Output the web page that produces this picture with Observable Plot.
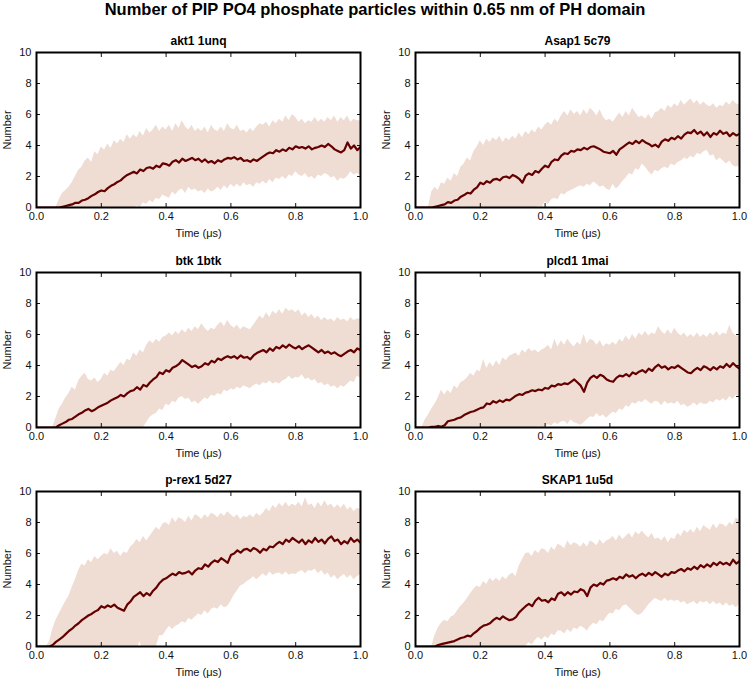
<!DOCTYPE html>
<html>
<head>
<meta charset="utf-8">
<script src="https://cdn.jsdelivr.net/npm/d3@7"></script>
<script src="https://cdn.jsdelivr.net/npm/@observablehq/plot@0.6"></script>
<style>
  html, body { margin: 0; padding: 0; background: #fff; }
  #root { position: relative; width: 750px; height: 682px; font-family: "Liberation Sans", Arial, sans-serif; }
  #title { position: absolute; left: 0; top: 0; width: 750px; text-align: center; font-weight: bold; font-size: 16.5px; line-height: 18px; color: #000; }
  .panel { position: absolute; }
</style>
</head>
<body>
<div id="root">
  <div id="title">Number of PIP PO4 phosphate particles within 0.65 nm of PH domain</div>
</div>
<script>
// ---- data: values sampled every 0.01 µs from 0.00 to 1.00 (101 samples) ----
const panelNames = ["akt1 1unq", "Asap1 5c79", "btk 1btk", "plcd1 1mai", "p-rex1 5d27", "SKAP1 1u5d"];
const xTicks = [0, 0.2, 0.4, 0.6, 0.8, 1.0];
const yTicks = [0, 2, 4, 6, 8, 10];

const akt1Mean = [0,0,0,0,0,0,0,0,0.05,0.1, 0.15,0.2,0.3,0.3,0.45,0.5,0.6,0.75,0.85,1.0, 1.1,1.05,1.25,1.4,1.5,1.65,1.75,1.95,2.1,2.2, 2.3,2.2,2.45,2.35,2.55,2.6,2.5,2.7,2.6,2.85, 2.8,2.7,2.95,3.05,2.9,3.15,3.0,3.1,3.2,3.05, 3.15,2.95,3.1,2.9,3.0,2.85,3.05,2.95,3.1,3.2, 3.15,3.25,3.1,3.2,3.0,3.05,2.95,3.1,3.0,3.15, 3.3,3.45,3.55,3.5,3.7,3.6,3.75,3.65,3.85,3.75, 3.95,3.85,3.9,3.8,3.95,3.75,3.85,3.9,4.0,3.9, 4.1,3.95,3.75,3.65,3.55,3.7,4.2,3.8,4.0,3.7, 3.9];
const akt1Upper = [0,0,0,0,0,0,0,0.5,0.9,1.1, 1.3,1.6,2.0,2.4,2.6,3.0,3.2,2.9,3.6,3.4, 3.9,3.7,4.1,3.8,4.3,4.1,4.4,4.2,4.7,4.4, 4.7,4.5,4.9,4.6,5.1,4.8,5.0,5.3,4.9,5.2, 5.0,5.3,4.9,5.4,5.1,5.6,5.2,5.0,5.3,4.9, 5.1,4.9,5.2,4.8,5.3,5.0,4.9,5.2,4.9,5.4, 5.1,5.0,5.3,4.9,5.0,4.8,5.1,4.9,5.2,5.4, 5.3,5.5,5.2,5.6,5.4,5.7,5.5,5.9,5.6,6.0, 5.8,5.5,5.7,5.4,5.6,5.5,5.8,5.5,5.7,5.5, 5.8,5.6,5.9,5.5,5.8,5.6,5.9,5.5,5.7,5.6, 5.6];
const akt1Lower = [0,0,0,0,0,0,0,-0.5,-0.8,-0.9, -1.0,-1.2,-1.4,-1.8,-1.7,-2.0,-2.0,-1.4,-1.9,-1.4, -1.7,-1.6,-1.6,-1.0,-1.3,-0.8,-0.9,-0.3,-0.5,-0.1, -0.1,0.1,0.0,0.3,0.2,0.45,0.3,0.6,0.5,0.8, 0.7,0.6,1.0,0.8,1.1,1.2,0.9,1.3,1.1,1.2, 1.0,1.1,0.9,1.2,1.0,1.1,1.3,1.1,1.4,1.2, 1.5,1.3,1.5,1.3,1.6,1.4,1.5,1.3,1.6,1.5, 1.7,1.5,1.8,1.6,1.9,1.8,2.0,1.8,2.1,2.0, 2.3,2.1,2.0,2.2,1.9,2.0,1.8,2.1,2.0,2.2, 2.1,1.9,2.0,1.7,1.9,1.8,2.0,2.3,2.1,2.2, 2.1];

const asap1Mean = [0,0,0,0,0,0,0.05,0.1,0.15,0.2, 0.35,0.3,0.45,0.5,0.7,0.8,0.95,0.9,1.15,1.3, 1.6,1.5,1.7,1.6,1.8,1.85,1.75,1.95,2.0,1.9, 2.1,2.0,1.85,1.6,2.05,2.2,2.1,2.35,2.25,2.5, 2.7,2.6,2.95,3.1,3.05,3.35,3.5,3.45,3.65,3.6, 3.75,3.7,3.85,3.75,3.9,3.95,3.85,3.75,3.6,3.55, 3.5,3.65,3.4,3.75,3.9,4.05,4.2,4.1,4.3,4.15, 4.35,4.2,4.1,3.95,4.05,3.9,4.25,4.4,4.3,4.5, 4.4,4.6,4.45,4.7,4.85,4.8,5.0,4.75,4.9,4.65, 4.85,4.55,4.8,4.7,4.95,4.75,4.85,4.6,4.8,4.65, 4.75];
const asap1Upper = [0,0,0,0,0,1.0,1.3,1.1,1.6,1.5, 1.9,1.7,2.2,2.0,2.6,2.8,3.2,3.0,3.6,3.9, 4.3,4.0,4.4,4.2,4.5,4.3,4.6,4.2,4.5,4.3, 4.6,4.4,4.8,4.5,4.9,4.7,5.0,4.8,5.2,5.0, 5.3,5.5,5.3,5.7,5.5,5.9,6.2,5.9,6.3,6.0, 6.2,5.9,6.3,6.0,6.4,6.2,5.9,6.3,5.8,5.6, 5.7,5.5,5.8,6.1,5.8,6.2,5.9,6.4,6.1,5.8, 5.9,5.7,6.0,5.7,6.1,6.2,6.4,6.2,6.6,6.4, 6.7,6.5,6.9,6.6,6.8,7.0,6.7,6.9,6.6,6.8, 6.6,6.5,6.7,6.4,6.6,6.5,6.8,6.6,6.9,6.7, 6.6];
const asap1Lower = [0,0,0,0,0,-1.0,-1.2,-0.9,-1.3,-1.1, -1.2,-1.1,-1.3,-1.0,-1.2,-1.2,-1.3,-1.2,-1.3,-1.3, -1.1,-1.0,-1.0,-1.0,-0.9,-0.6,-1.1,-0.3,-0.5,-0.5, -0.4,-0.4,-1.1,-1.3,-0.8,-0.3,0.0,-0.1,0.1,0.0, 0.35,0.2,0.5,0.6,0.5,0.9,0.8,1.0,1.1,1.2, 1.3,1.4,1.3,1.5,1.4,1.65,1.5,1.3,1.4,1.2, 1.1,1.5,1.2,1.4,1.7,1.9,2.2,2.1,2.5,2.4, 2.8,2.6,2.3,2.1,2.4,2.3,2.5,2.6,2.5,2.8, 2.7,2.9,3.0,3.2,3.1,3.3,3.2,3.5,3.4,3.6, 3.7,3.3,3.4,3.0,3.2,3.0,2.8,3.0,2.7,2.6, 2.7];

const btkMean = [0,0,0,0,0,0,0,0.15,0.25,0.35, 0.5,0.55,0.7,0.85,0.95,1.1,1.2,1.05,1.15,1.3, 1.4,1.5,1.6,1.75,1.85,1.95,2.1,2.0,2.2,2.35, 2.4,2.6,2.45,2.75,2.65,2.9,3.1,3.25,3.55,3.45, 3.7,3.6,3.85,3.95,4.1,4.35,4.2,4.05,3.9,4.0, 3.85,3.95,4.15,4.05,4.3,4.2,4.45,4.35,4.5,4.6, 4.5,4.6,4.45,4.65,4.5,4.55,4.4,4.65,4.8,4.9, 5.0,4.85,5.1,4.95,5.2,5.1,5.3,5.15,5.35,5.2, 5.1,5.25,5.05,5.2,5.3,5.15,5.0,4.85,5.0,4.8, 4.9,4.75,4.85,4.7,4.6,4.75,4.9,5.0,4.85,5.1, 5.0];
const btkUpper = [0,0,0,0,0,0,0.6,1.2,1.5,1.9, 2.2,2.6,2.4,3.0,3.3,3.5,3.1,3.0,3.2,2.9, 3.1,3.5,3.3,3.7,3.6,3.9,4.2,4.0,4.4,4.3, 4.8,4.6,5.0,4.8,5.3,5.6,5.4,5.7,5.5,5.8, 5.9,6.1,5.9,6.2,6.0,6.3,6.1,6.4,6.2,6.5, 6.3,6.7,6.4,6.2,6.4,6.3,6.6,6.8,6.5,6.9, 6.6,6.4,6.6,6.3,6.5,6.4,6.3,6.6,6.9,7.2, 7.0,7.4,7.1,7.5,7.3,7.6,7.3,7.7,7.5,7.6, 7.4,7.6,7.2,7.4,7.1,7.3,7.0,7.2,6.9,7.1, 6.9,7.0,6.8,7.1,6.9,7.0,6.8,7.1,6.9,7.0, 7.0];
const btkLower = [0,0,0,0,0,0,-0.6,-0.9,-1.0,-1.2, -1.2,-1.5,-1.0,-1.3,-1.4,-1.3,-0.7,-0.9,-0.9,-0.3, -0.3,-0.5,-0.8,-0.9,-0.7,-0.8,-0.6,-0.7,-0.5,-0.4, -0.5,-0.3,-0.2,0.0,0.3,0.65,0.8,0.9,1.2,1.1, 1.5,1.4,1.7,1.6,1.9,2.0,1.8,1.9,1.6,1.7, 1.5,1.7,1.9,1.8,2.1,2.0,2.2,2.1,2.4,2.3, 2.5,2.4,2.6,2.5,2.7,2.6,2.5,2.7,2.8,2.7, 2.9,2.8,3.0,2.8,2.9,2.8,3.0,3.1,3.3,3.1, 3.25,3.2,3.4,3.1,3.2,3.0,3.1,2.8,2.9,2.7, 2.8,2.6,2.7,2.5,2.7,2.6,2.8,3.0,2.9,3.3, 3.2];

const plcd1Mean = [0,0,0,0,0,0.05,0.05,0.1,0.05,0.15, 0.4,0.45,0.5,0.6,0.65,0.8,0.9,1.0,1.05,1.15, 1.25,1.3,1.55,1.5,1.7,1.6,1.75,1.65,1.8,1.75, 1.9,2.05,2.15,2.1,2.25,2.3,2.4,2.35,2.45,2.4, 2.55,2.5,2.7,2.65,2.8,2.75,2.85,2.8,2.95,3.1, 2.9,2.7,2.3,2.9,3.2,3.35,3.2,3.4,3.3,3.1, 3.0,2.95,3.2,3.35,3.3,3.45,3.3,3.55,3.45,3.6, 3.7,3.55,3.8,3.65,3.9,4.05,3.85,3.95,3.75,3.9, 3.85,4.0,3.85,3.7,3.55,3.5,3.7,3.85,3.7,3.95, 3.85,3.7,3.9,3.75,3.95,3.85,4.1,3.9,4.15,3.95, 3.8];
const plcd1Upper = [0,0,0,0.5,0.8,1.2,1.5,1.9,2.4,2.1, 2.4,2.2,2.7,2.5,2.9,3.0,3.2,3.5,3.3,3.7, 3.6,4.4,3.8,4.2,3.9,4.3,4.0,4.5,4.3,4.6, 4.7,4.8,4.6,5.0,4.8,5.1,4.9,5.0,4.8,5.0, 5.1,5.3,5.0,5.7,5.2,5.6,5.3,5.7,5.4,5.2, 5.5,5.3,6.0,5.4,5.7,5.6,5.3,5.6,5.2,5.4, 5.3,5.5,5.3,5.7,5.5,5.9,5.6,6.0,5.7,6.1, 5.9,6.2,5.9,6.1,6.0,6.5,6.2,6.0,6.3,6.0, 6.4,6.1,5.9,6.1,5.8,6.0,5.8,6.1,5.8,6.0, 5.8,6.1,5.9,6.2,5.9,6.1,6.0,6.6,6.1,5.9, 5.9];
const plcd1Lower = [0,0,0,-0.5,-0.8,-1.1,-1.4,-1.7,-2.0,-1.8, -1.6,-1.3,-1.7,-1.3,-1.6,-1.4,-1.4,-1.5,-1.2,-1.4, -1.1,-1.8,-0.7,-1.2,-0.5,-1.1,-0.5,-1.2,-0.7,-1.1, -0.9,-0.7,-0.3,-0.8,-0.3,-0.5,-0.1,-0.3,0.1,-0.2, 0.0,0.2,0.1,0.3,0.2,0.35,0.4,0.2,0.5,0.3, 0.25,0.15,0.3,0.5,0.7,0.65,0.9,0.7,0.8,0.6, 0.8,1.0,0.9,1.2,1.1,1.4,1.3,1.6,1.5,1.7, 1.6,1.8,1.65,1.5,1.7,1.65,1.4,1.7,1.5,1.6, 1.5,1.7,1.4,1.5,1.3,1.4,1.6,1.4,1.6,1.5, 1.5,1.7,1.6,1.8,1.7,1.85,1.7,2.0,1.8,2.1, 1.95];

const prex1Mean = [0,0,0,0,0,0.1,0.3,0.45,0.6,0.8, 1.0,1.15,1.35,1.5,1.7,1.85,2.0,2.1,2.25,2.35, 2.6,2.5,2.65,2.55,2.7,2.5,2.4,2.3,2.7,2.9, 3.2,3.35,3.5,3.25,3.45,3.3,3.6,3.8,4.1,4.3, 4.4,4.55,4.7,4.6,4.8,4.7,4.75,4.85,4.65,4.9, 5.05,5.0,5.3,5.15,5.4,5.55,5.45,5.7,5.55,5.4, 5.9,6.0,6.2,6.05,6.25,6.3,6.15,6.35,6.25,6.05, 6.3,6.2,6.45,6.4,6.6,6.75,6.6,6.9,6.75,7.0, 6.85,6.7,6.9,6.6,6.85,6.7,7.0,6.75,6.9,6.65, 6.95,7.1,6.8,6.9,6.6,6.8,6.65,7.0,6.75,6.9, 6.7];
const prex1Upper = [0,0,0,0,0.3,1.1,1.7,2.1,2.5,2.9, 3.25,3.8,4.3,4.9,5.3,5.2,5.6,5.4,5.8,5.6, 5.8,6.0,5.9,6.3,6.0,6.15,5.8,6.1,6.0,6.4, 6.6,6.9,6.7,7.1,6.8,7.1,7.4,7.7,7.5,7.9, 8.0,7.8,8.3,8.0,8.3,8.2,8.0,8.4,8.1,8.5, 8.4,8.2,8.5,8.3,8.6,8.5,8.3,8.6,8.4,8.7, 8.5,8.3,8.5,8.2,8.4,8.3,8.5,8.3,8.6,8.4, 8.6,8.9,8.7,9.1,8.9,9.25,9.0,9.3,9.0,9.2, 9.05,9.3,9.0,9.6,9.1,9.2,8.9,9.3,9.0,9.4, 9.05,9.2,8.9,9.15,8.9,9.2,8.8,9.0,8.7,8.9, 8.85];
const prex1Lower = [0,0,0,0,-0.3,-0.9,-1.1,-1.2,-1.3,-1.3, -1.25,-1.5,-1.6,-1.9,-1.9,-1.5,-1.6,-1.2,-1.3,-0.9, -0.6,-1.0,-0.6,-1.2,-0.6,-1.15,-1.0,-1.5,-0.6,-0.6, 0.0,-0.2,0.3,-0.6,0.1,-0.5,-0.2,0.0,0.7,0.7, 1.0,1.3,1.1,1.3,1.4,1.6,1.5,1.8,1.7,1.9, 2.1,2.0,2.3,2.1,2.4,2.5,2.4,2.7,2.5,2.6, 2.9,3.3,3.6,3.9,4.0,4.2,4.3,4.5,4.3,4.5, 4.7,4.5,4.8,4.6,4.7,4.75,4.6,4.8,4.6,4.7, 4.65,4.8,4.9,4.7,4.9,4.85,5.0,4.7,4.9,4.6, 4.75,4.4,4.6,4.3,4.5,4.65,4.4,4.6,4.3,4.5, 4.65];

const skap1Mean = [0,0,0,0,0,0,0,0.1,0.15,0.2, 0.25,0.3,0.35,0.45,0.55,0.6,0.7,0.65,0.85,1.0, 1.2,1.35,1.4,1.5,1.7,1.85,1.75,1.95,1.8,1.7, 1.75,1.9,2.2,2.4,2.6,2.75,2.6,2.95,3.15,2.95, 3.0,2.85,3.1,3.0,3.4,3.5,3.3,3.5,3.35,3.55, 3.5,3.7,3.6,3.25,3.8,4.0,3.9,4.1,4.0,4.25, 4.3,4.4,4.3,4.5,4.4,4.65,4.5,4.6,4.4,4.6, 4.7,4.55,4.75,4.6,4.8,4.65,4.5,4.7,4.6,4.8, 4.75,4.9,5.0,4.85,5.05,4.95,5.15,5.0,5.25,5.1, 5.3,5.15,5.4,5.25,5.45,5.3,5.4,5.25,5.6,5.35, 5.5];
const skap1Upper = [0,0,0,0,0,0,0.7,1.2,1.5,1.7, 1.6,1.9,2.0,2.3,2.6,2.8,3.1,3.4,3.7,3.9, 3.8,4.2,4.0,4.4,4.2,4.4,4.2,4.5,4.3,4.6, 4.75,4.5,5.2,5.6,6.0,6.05,5.8,6.2,6.0,6.3, 6.25,6.0,6.4,6.2,6.6,6.5,6.3,6.8,6.5,6.7, 6.6,6.4,6.7,6.4,6.8,6.7,6.5,6.9,6.6,6.8, 6.9,7.1,6.8,7.2,6.9,7.1,7.3,7.0,7.4,7.2, 7.45,7.2,7.0,7.3,6.9,7.0,6.8,7.1,6.7,7.0, 6.9,7.3,7.1,7.5,7.3,7.55,7.3,7.7,7.4,7.8, 7.65,7.5,7.9,7.6,7.9,7.85,7.7,8.0,7.8,8.3, 8.1];
const skap1Lower = [0,0,0,0,0,0,-0.7,-1.0,-1.2,-1.3, -1.1,-1.3,-1.3,-1.4,-1.5,-1.6,-1.7,-2.0,-2.0,-1.9, -1.4,-1.5,-1.2,-1.4,-0.8,-0.7,-0.7,-0.6,-0.7,-1.2, -1.2,-0.7,-0.8,-0.5,0.0,0.25,0.1,0.4,0.6,0.4, 0.65,0.5,0.8,0.7,1.0,1.0,0.8,1.1,0.9,1.2, 1.1,1.3,1.2,1.0,1.3,1.5,1.4,1.7,1.6,1.9, 2.15,2.1,2.4,2.3,2.6,2.7,2.5,2.3,2.1,2.0, 2.15,2.4,2.7,2.9,3.1,3.0,2.9,3.1,2.9,3.0, 2.9,3.0,2.8,2.9,2.7,2.8,2.9,2.7,2.9,2.8, 2.9,2.7,2.9,2.7,2.8,2.6,2.8,2.6,2.7,2.5, 2.7];

const meanSeries = [akt1Mean, asap1Mean, btkMean, plcd1Mean, prex1Mean, skap1Mean];
const upperSeries = [akt1Upper, asap1Upper, btkUpper, plcd1Upper, prex1Upper, skap1Upper];
const lowerSeries = [akt1Lower, asap1Lower, btkLower, plcd1Lower, prex1Lower, skap1Lower];

// ---- drawing ----
const bandColor = "#efdcd2";
const lineColor = "#640000";
const font = "'Liberation Sans', Arial, sans-serif";
const panelTops = [22, 242, 461];

function panel(k) {
  const col = k % 2, row = Math.floor(k / 2);
  const mean = meanSeries[k], upper = upperSeries[k], lower = lowerSeries[k];
  const rows = mean.map((m, i) => ({t: i / 100, m, hi: upper[i], lo: lower[i]}));
  const chart = Plot.plot({
    width: 375,
    height: 220,
    marginTop: 30,
    marginBottom: 35,
    marginLeft: col === 0 ? 36 : 40,
    marginRight: col === 0 ? 15 : 11,
    style: {fontFamily: font, fontSize: "11px", color: "#111", background: "transparent", overflow: "visible"},
    x: {domain: [0, 1]},
    y: {domain: [0, 10]},
    marks: [
      Plot.areaY(rows, {x: "t", y1: "lo", y2: "hi", fill: bandColor, clip: true}),
      Plot.lineY(rows, {x: "t", y: "m", stroke: lineColor, strokeWidth: 2.2, clip: true}),
      Plot.axisX({ticks: xTicks, tickSize: -4, tickPadding: 9, tickFormat: d3.format(".1f"), label: null}),
      Plot.axisX({anchor: "top", ticks: xTicks, tickSize: -4, tickFormat: () => "", label: null}),
      Plot.axisY({ticks: yTicks, tickSize: -4, tickPadding: 9, tickFormat: d3.format("d"), label: null}),
      Plot.axisY({anchor: "right", ticks: yTicks, tickSize: -4, tickFormat: () => "", label: null}),
      Plot.frame({stroke: "#000", strokeWidth: 2}),
      Plot.text([panelNames[k]], {frameAnchor: "top", lineAnchor: "middle", textAnchor: "middle", dy: -11, fontWeight: "bold", fontSize: 12, fill: "#000"}),
      Plot.text(["Time (μs)"], {frameAnchor: "bottom", lineAnchor: "middle", textAnchor: "middle", dy: 26, fontSize: 11}),
      Plot.text(["Number"], {frameAnchor: "left", lineAnchor: "middle", textAnchor: "middle", dx: -29, rotate: -90, fontSize: 11})
    ]
  });
  chart.classList.add("panel");
  chart.style.left = (col * 375) + "px";
  chart.style.top = panelTops[row] + "px";
  return chart;
}

const root = document.getElementById("root");
for (let k = 0; k < 6; k++) root.appendChild(panel(k));
</script>
</body>
</html>
